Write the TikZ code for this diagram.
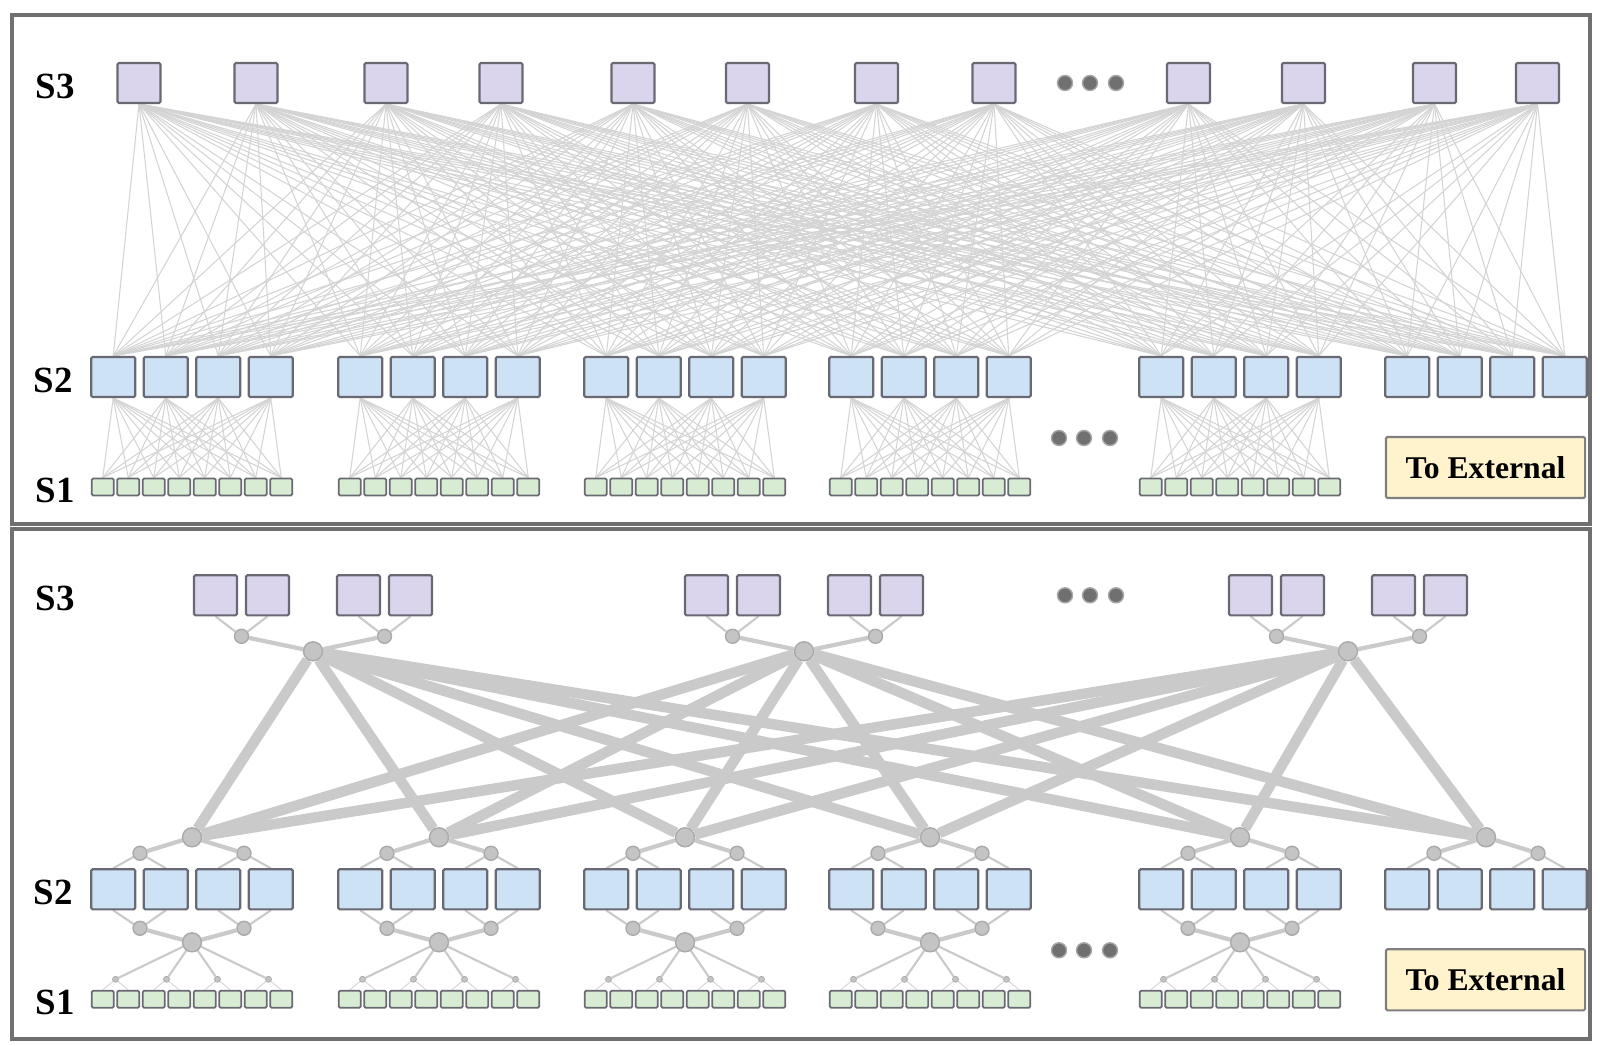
\documentclass[tikz,border=0pt]{standalone}
\usepackage{fontspec}
\setmainfont{Liberation Serif}
\usetikzlibrary{backgrounds}

\definecolor{framegray}{RGB}{112,112,112}
\definecolor{boxline}{RGB}{105,105,115}
\definecolor{spinefill}{RGB}{218,212,236}
\definecolor{leaffill}{RGB}{206,226,246}
\definecolor{torfill}{RGB}{216,236,212}
\definecolor{extfill}{RGB}{255,243,206}
\definecolor{meshgray}{RGB}{212,212,212}
\definecolor{trunkgray}{RGB}{202,202,202}
\definecolor{hubfill}{RGB}{196,196,196}
\definecolor{hubline}{RGB}{170,170,170}
\definecolor{dotfill}{RGB}{112,112,112}

\tikzset{
	sbox/.style={draw=boxline, line width=0.6pt, rounded corners=0.4pt, inner sep=0pt},
	s3box/.style={sbox, fill=spinefill, minimum width=0.43cm, minimum height=0.40cm},
	s2box/.style={sbox, fill=leaffill, minimum width=0.44cm, minimum height=0.40cm},
	s1box/.style={sbox, fill=torfill, minimum width=0.22cm, minimum height=0.17cm, line width=0.5pt},
	hub/.style={circle, fill=hubfill, draw=hubline, line width=0.4pt, inner sep=0pt, minimum size=0.19cm},
	subhub/.style={hub, minimum size=0.14cm},
	tinyhub/.style={hub, minimum size=0.06cm, line width=0.2pt},
	more/.style={circle, fill=dotfill, draw=gray!70, line width=0.4pt, inner sep=0pt, minimum size=0.15cm},
	lvl/.style={font=\fontsize{10.5}{12}\selectfont\bfseries},
	extbox/.style={sbox, fill=extfill, draw=gray, minimum width=1.99cm, minimum height=0.61cm, font=\fontsize{9}{11}\selectfont\bfseries},
	panel/.style={draw=framegray, line width=1pt},
	mesh/.style={draw=meshgray, line width=0.3pt},
	trunk/.style={draw=trunkgray, line width=3pt},
	branch/.style={draw=trunkgray, line width=1.2pt},
	twig/.style={draw=trunkgray, line width=0.6pt},
	leafline/.style={draw=trunkgray!70, line width=0.3pt},
}

\begin{document}
\begin{tikzpicture}[x=0.01cm, y=-0.01cm]
		\useasboundingbox (0,0) rectangle (1600,1046);
		
		%Rahmen
		\draw[panel] (12,15) rectangle (1590,524);
		\draw[panel] (12,529) rectangle (1590,1039);
		
		%Oberes Bild: Ebenen
		\node[lvl] (aS3) at (55,86) {S3};
		\node[lvl] (aS2) at (53,380) {S2};
		\node[lvl] (aS1) at (55,490) {S1};
		
		%S3
		\foreach \x [count=\i] in {139,256,386,501,633,747.5,876.5,994,1188.5,1303.5,1434.5,1537.5}
			\node[s3box] (a3-\i) at (\x,83) {};
		\foreach \x [count=\i] in {1065,1090,1116}
			\node[more] (adot3-\i) at (\x,83) {};
		
		%S2 und S1
		\foreach \g [count=\j] in {192,439,685,930,1240,1486}
			\foreach \d [count=\i] in {-78.75,-26.25,26.25,78.75}
				\node[s2box] (a2-\j-\i) at ({\g+\d},377) {};
		\foreach \g [count=\j] in {192,439,685,930,1240}
			\foreach \k in {1,...,8}
				\node[s1box] (a1-\j-\k) at ({\g-89.25+25.5*(\k-1)},487) {};
		\foreach \x [count=\i] in {1059,1084,1110}
			\node[more] (adot1-\i) at (\x,438) {};
		\node[extbox] (aext) at (1485.5,467.5) {To External};
		
		%Verbindungen oben
		\begin{pgfonlayer}{background}
			\fill[white] (0,0) rectangle (1600,1046);
			\foreach \s in {1,...,12}
				\foreach \j in {1,...,6}
					\foreach \i in {1,...,4}
						\draw[mesh] (a3-\s.south) -- (a2-\j-\i.north);
			\foreach \j in {1,...,5}
				\foreach \i in {1,...,4}
					\foreach \k in {1,...,8}
						\draw[mesh] (a2-\j-\i.south) -- (a1-\j-\k.north);
		\end{pgfonlayer}
		
		%Unteres Bild
		\begin{scope}[yshift=-5.12cm]
			\node[lvl] (bS3) at (55,86) {S3};
			\node[lvl] (bS2) at (53,380) {S2};
			\node[lvl] (bS1) at (55,490) {S1};
			
			%S3 mit Knoten
			\foreach \c [count=\k] in {313,804,1348} {
				\node[hub] (b3h-\k) at (\c,139) {};
				\node[subhub] (b3l-\k) at ({\c-71.5},124) {};
				\node[subhub] (b3r-\k) at ({\c+71.5},124) {};
				\foreach \d [count=\i] in {-97.5,-45.5,45.5,97.5}
					\node[s3box] (b3-\k-\i) at ({\c+\d},83) {};
			}
			\foreach \x [count=\i] in {1065,1090,1116}
				\node[more] (bdot3-\i) at (\x,83) {};
			
			%S2 mit Knoten
			\foreach \g [count=\j] in {192,439,685,930,1240,1486} {
				\node[hub] (b2h-\j) at (\g,325) {};
				\node[subhub] (b2l-\j) at ({\g-52},341) {};
				\node[subhub] (b2r-\j) at ({\g+52},341) {};
				\foreach \d [count=\i] in {-78.75,-26.25,26.25,78.75}
					\node[s2box] (b2-\j-\i) at ({\g+\d},377) {};
			}
			
			%S1 mit Knoten
			\foreach \g [count=\j] in {192,439,685,930,1240} {
				\node[subhub] (b1l-\j) at ({\g-52},416) {};
				\node[subhub] (b1r-\j) at ({\g+52},416) {};
				\node[hub] (b1h-\j) at (\g,430) {};
				\foreach \d [count=\m] in {-76.5,-25.5,25.5,76.5}
					\node[tinyhub] (b1t-\j-\m) at ({\g+\d},467) {};
				\foreach \k in {1,...,8}
					\node[s1box] (b1-\j-\k) at ({\g-89.25+25.5*(\k-1)},487) {};
			}
			\foreach \x [count=\i] in {1059,1084,1110}
				\node[more] (bdot1-\i) at (\x,438) {};
			\node[extbox] (bext) at (1485.5,467.5) {To External};
			
			%Verbindungen unten
			\begin{pgfonlayer}{background}
				\foreach \k in {1,2,3} {
					\draw[twig] (b3-\k-1.south) -- (b3l-\k) -- (b3-\k-2.south);
					\draw[twig] (b3-\k-3.south) -- (b3r-\k) -- (b3-\k-4.south);
					\draw[branch] (b3l-\k) -- (b3h-\k) -- (b3r-\k);
					\foreach \j in {1,...,6}
						\draw[trunk] (b3h-\k) -- (b2h-\j);
				}
				\foreach \j in {1,...,6} {
					\draw[branch] (b2l-\j) -- (b2h-\j) -- (b2r-\j);
					\draw[twig] (b2-\j-1.north) -- (b2l-\j) -- (b2-\j-2.north);
					\draw[twig] (b2-\j-3.north) -- (b2r-\j) -- (b2-\j-4.north);
				}
				\foreach \j in {1,...,5} {
					\draw[twig] (b2-\j-1.south) -- (b1l-\j) -- (b2-\j-2.south);
					\draw[twig] (b2-\j-3.south) -- (b1r-\j) -- (b2-\j-4.south);
					\draw[branch] (b1l-\j) -- (b1h-\j) -- (b1r-\j);
					\foreach \m in {1,...,4}
						\draw[twig] (b1h-\j) -- (b1t-\j-\m);
					\foreach \m [evaluate=\m as \p using int(2*\m-1), evaluate=\m as \q using int(2*\m)] in {1,...,4}
						\draw[leafline] (b1-\j-\p.north) -- (b1t-\j-\m) -- (b1-\j-\q.north);
				}
			\end{pgfonlayer}
		\end{scope}
		
	\end{tikzpicture}
\end{document}
